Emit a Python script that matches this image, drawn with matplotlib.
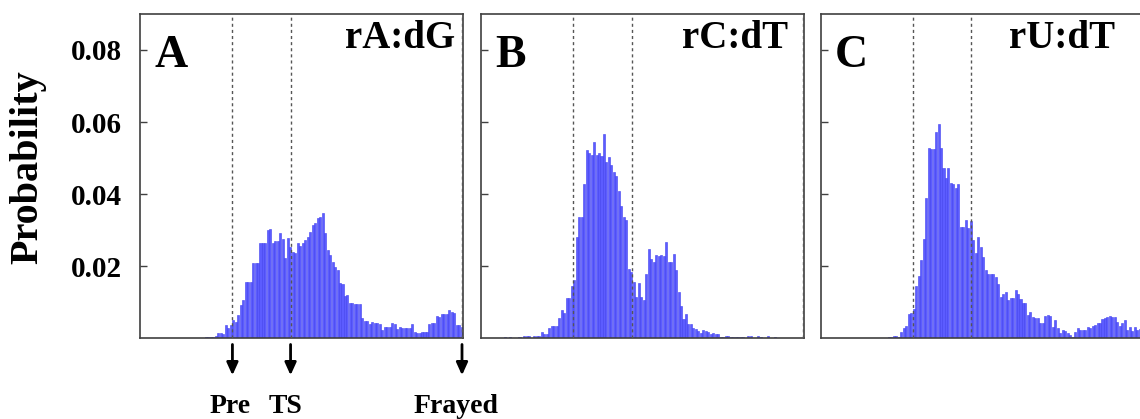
import matplotlib
matplotlib.use('Agg')
import matplotlib.pyplot as plt
import numpy as np

plt.rcParams['font.family'] = ['Liberation Serif', 'DejaVu Serif']
plt.rcParams['font.weight'] = 'bold'

panel_letters = ['A', 'B', 'C']
pair_labels = ['rA:dG', 'rC:dT', 'rU:dT']
state_names = ['Pre', 'TS', 'Frayed']
state_positions = [37.2, 60.6, 129.6]
yticks = [0.02, 0.04, 0.06, 0.08]
ytick_labels = ['0.02', '0.04', '0.06', '0.08']
n_bins = 130

prob_A = [
    0, 0, 0, 0, 0, 0, 0, 0, 0, 0,
    0, 0, 0, 0, 0, 0, 0, 0, 0, 0,
    0, 0, 0, 0, 0, 0, 0.0003, 0.0003, 0.0003, 0.0004,
    0.0006, 0.0013, 0.0013, 0.0010, 0.0035, 0.0027, 0.0035, 0.0050, 0.0045, 0.0064,
    0.0092, 0.0106, 0.0155, 0.0156, 0.0156, 0.0207, 0.0208, 0.0209, 0.0263, 0.0263,
    0.0263, 0.0300, 0.0302, 0.0263, 0.0270, 0.0270, 0.0291, 0.0275, 0.0221, 0.0279,
    0.0254, 0.0240, 0.0235, 0.0265, 0.0256, 0.0265, 0.0272, 0.0281, 0.0295, 0.0314,
    0.0320, 0.0332, 0.0335, 0.0348, 0.0291, 0.0244, 0.0231, 0.0210, 0.0198, 0.0189,
    0.0152, 0.0150, 0.0117, 0.0119, 0.0096, 0.0096, 0.0094, 0.0094, 0.0094, 0.0055,
    0.0048, 0.0048, 0.0039, 0.0045, 0.0043, 0.0041, 0.0039, 0.0022, 0.0030, 0.0030,
    0.0030, 0.0041, 0.0038, 0.0025, 0.0030, 0.0027, 0.0027, 0.0029, 0.0029, 0.0039,
    0.0017, 0.0013, 0.0015, 0.0018, 0.0018, 0.0018, 0.0039, 0.0043, 0.0043, 0.0061,
    0.0057, 0.0066, 0.0066, 0.0067, 0.0078, 0.0072, 0.0070, 0.0036, 0.0036, 0.0031,
]

prob_B = [
    0, 0, 0, 0, 0, 0, 0, 0, 0, 0.0003,
    0, 0.0002, 0, 0, 0, 0.0002, 0, 0.0005, 0.0005, 0.0005,
    0, 0.0006, 0.0006, 0.0006, 0.0017, 0.0012, 0.0012, 0.0029, 0.0033, 0.0033,
    0.0033, 0.0055, 0.0078, 0.0070, 0.0110, 0.0110, 0.0145, 0.0160, 0.0280, 0.0337,
    0.0337, 0.0427, 0.0522, 0.0515, 0.0508, 0.0545, 0.0508, 0.0513, 0.0506, 0.0567,
    0.0490, 0.0504, 0.0480, 0.0460, 0.0450, 0.0408, 0.0368, 0.0335, 0.0329, 0.0192,
    0.0184, 0.0156, 0.0114, 0.0154, 0.0114, 0.0105, 0.0178, 0.0246, 0.0219, 0.0212,
    0.0231, 0.0228, 0.0231, 0.0229, 0.0267, 0.0212, 0.0212, 0.0232, 0.0189, 0.0127,
    0.0089, 0.0052, 0.0066, 0.0038, 0.0038, 0.0027, 0.0024, 0.0020, 0.0015, 0.0022,
    0.0020, 0.0018, 0.0011, 0.0015, 0.0011, 0.0011, 0.0004, 0.0002, 0.0006, 0.0006,
    0.0004, 0.0004, 0.0003, 0.0004, 0.0003, 0.0004, 0, 0.0005, 0.0005, 0,
    0, 0.0005, 0.0004, 0, 0, 0.0005, 0, 0, 0.0004, 0,
    0, 0, 0, 0, 0, 0, 0, 0, 0, 0,
]

prob_C = [
    0, 0, 0, 0, 0, 0, 0, 0, 0, 0,
    0, 0, 0, 0, 0, 0, 0, 0, 0, 0,
    0, 0, 0, 0, 0, 0, 0, 0.0002, 0.0004, 0.0006,
    0.0006, 0.0004, 0.0016, 0.0027, 0.0034, 0.0067, 0.0069, 0.0080, 0.0145, 0.0172,
    0.0217, 0.0274, 0.0390, 0.0527, 0.0524, 0.0524, 0.0573, 0.0594, 0.0527, 0.0473,
    0.0445, 0.0473, 0.0430, 0.0427, 0.0416, 0.0427, 0.0309, 0.0309, 0.0328, 0.0306,
    0.0325, 0.0272, 0.0235, 0.0281, 0.0254, 0.0226, 0.0189, 0.0177, 0.0177, 0.0177,
    0.0170, 0.0150, 0.0115, 0.0122, 0.0129, 0.0106, 0.0110, 0.0110, 0.0133, 0.0122,
    0.0107, 0.0098, 0.0096, 0.0064, 0.0073, 0.0057, 0.0056, 0.0055, 0.0041, 0.0041,
    0.0061, 0.0063, 0.0060, 0.0030, 0.0050, 0.0028, 0.0015, 0.0022, 0.0020, 0.0015,
    0.0008, 0.0004, 0.0018, 0.0027, 0.0022, 0.0022, 0.0022, 0.0031, 0.0029, 0.0032,
    0.0036, 0.0041, 0.0043, 0.0052, 0.0055, 0.0059, 0.0060, 0.0059, 0.0058, 0.0045,
    0.0033, 0.0043, 0.0050, 0.0022, 0.0030, 0.0020, 0.0031, 0.0022, 0.0025, 0.0020,
]

W, H = 1140, 419
fig = plt.figure(figsize=(W / 100, H / 100), dpi=100)

panel_left_px = [140, 481, 820.5]
label_right = [0.975, 0.950, 0.912]
bin_centers = np.arange(n_bins) + 0.5
frame_color = '#404040'

axes = []
for i, (data, letter, pair) in enumerate(zip([prob_A, prob_B, prob_C], panel_letters, pair_labels)):
    ax = fig.add_axes([panel_left_px[i] / W, 81 / H, 323 / W, 324 / H])
    ax.bar(bin_centers, data, width=0.82, color='#5c5cff', edgecolor='#4040ee', linewidth=0.4)
    for p in state_positions:
        ax.axvline(p, color='#555555', lw=1.0, ls=(0, (2.2, 2.2)), zorder=3)
    ax.set_xlim(0, n_bins)
    ax.set_ylim(0, 0.09)
    ax.set_xticks([])
    ax.set_yticks(yticks)
    ax.tick_params(axis='y', direction='in', length=5, width=1, colors=frame_color,
                   labelcolor='black', pad=13, labelsize=21)
    if i == 0:
        ax.set_yticklabels(ytick_labels, fontweight='bold')
    else:
        ax.set_yticklabels([])
    for s in ax.spines.values():
        s.set_color(frame_color)
        s.set_linewidth(1.2)
    ax.text(0.045, 0.836, letter, transform=ax.transAxes, fontsize=33,
            fontweight='bold', ha='left', va='baseline')
    ax.text(label_right[i], 0.895, pair, transform=ax.transAxes, fontsize=28,
            fontweight='bold', ha='right', va='baseline')
    axes.append(ax)

axA = axes[0]
text_offsets = [-2, -5, -6]
for name, pos, off in zip(state_names, state_positions, text_offsets):
    axA.annotate('', xy=(pos, -0.115), xytext=(pos, -0.02),
                 xycoords=('data', 'axes fraction'), textcoords=('data', 'axes fraction'),
                 arrowprops=dict(arrowstyle='-|>,head_length=0.42,head_width=0.19',
                                 color='black', lw=2, shrinkA=0, shrinkB=0,
                                 mutation_scale=18),
                 annotation_clip=False)
    axA.annotate(name, xy=(pos, -0.231), xycoords=('data', 'axes fraction'),
                 xytext=(off * 0.72, 0), textcoords='offset points',
                 ha='center', va='baseline', fontsize=20, fontweight='bold',
                 annotation_clip=False)

fig.text(28 / W, 1 - 167 / H, 'Probability', rotation=90, ha='center', va='center',
         fontsize=29, fontweight='bold')

fig.savefig('out.png', dpi=100)
